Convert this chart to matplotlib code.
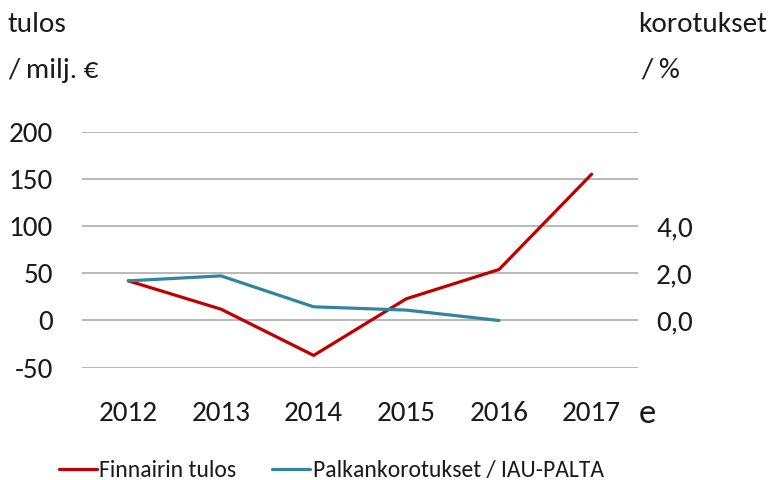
import matplotlib
matplotlib.use('Agg')
import matplotlib.pyplot as plt

# Data
years = ['2012', '2013', '2014', '2015', '2016', '2017']
tulos = [42, 12, -37, 23, 54, 155]            # Finnairin tulos, milj. EUR
korotukset = [1.68, 1.89, 0.58, 0.44, 0.0]    # Palkankorotukset / IAU-PALTA, %
left_ticks = [-50, 0, 50, 100, 150, 200]
right_ticks = [0, 2, 4]
right_labels = ['0,0', '2,0', '4,0']

plt.rcParams['font.family'] = ['Carlito', 'DejaVu Sans']
plt.rcParams['axes.unicode_minus'] = False

red = '#c00000'
teal = '#31859c'
txt = '#1a1a1a'

fig = plt.figure(figsize=(7.72, 4.8), dpi=100)
ax = fig.add_axes([0.1062, 0.234, 0.7202, 0.4916])
x = list(range(len(years)))

ax.plot(x, tulos, color=red, lw=2.3, label='Finnairin tulos', solid_capstyle='round')
ax.set_xlim(-0.5, 5.5)
ax.set_ylim(-50, 200)
ax.set_yticks(left_ticks)
ax.set_xticks(x)
ax.set_xticklabels(years)
ax.grid(axis='y', color='#a6a6a6', lw=1.1)
ax.set_axisbelow(True)
for s in ax.spines.values():
    s.set_visible(False)
ax.tick_params(length=0, labelsize=21, colors=txt)
ax.tick_params(axis='y', pad=21)
ax.tick_params(axis='x', pad=24)

ax2 = ax.twinx()
ax2.plot(x[:len(korotukset)], korotukset, color=teal, lw=2.3,
         label='Palkankorotukset / IAU-PALTA', solid_capstyle='round')
ax2.set_ylim(-2, 8)
ax2.set_yticks(right_ticks)
ax2.set_yticklabels(right_labels)
for s in ax2.spines.values():
    s.set_visible(False)
ax2.tick_params(length=0, labelsize=21, colors=txt, pad=13)

# axis titles and extra text
fig.text(0.010, 0.948, 'tulos', fontsize=21, va='center', ha='left', color=txt)
fig.text(0.010, 0.854, '/ milj. €', fontsize=21, va='center', ha='left', color=txt)
fig.text(0.826, 0.948, 'korotukset', fontsize=21, va='center', ha='left', color=txt)
fig.text(0.830, 0.854, '/ %', fontsize=21, va='center', ha='left', color=txt)
fig.text(0.839, 0.138, 'e', fontsize=25, va='center', ha='center', color=txt)

h1, l1 = ax.get_legend_handles_labels()
h2, l2 = ax2.get_legend_handles_labels()
fig.legend(h1 + h2, l1 + l2, loc='center', bbox_to_anchor=(0.429, 0.02),
           ncol=2, frameon=False, fontsize=17, handlelength=1.6,
           handletextpad=0.12, columnspacing=1.5, labelcolor=txt)

fig.savefig('out.png', dpi=100)
